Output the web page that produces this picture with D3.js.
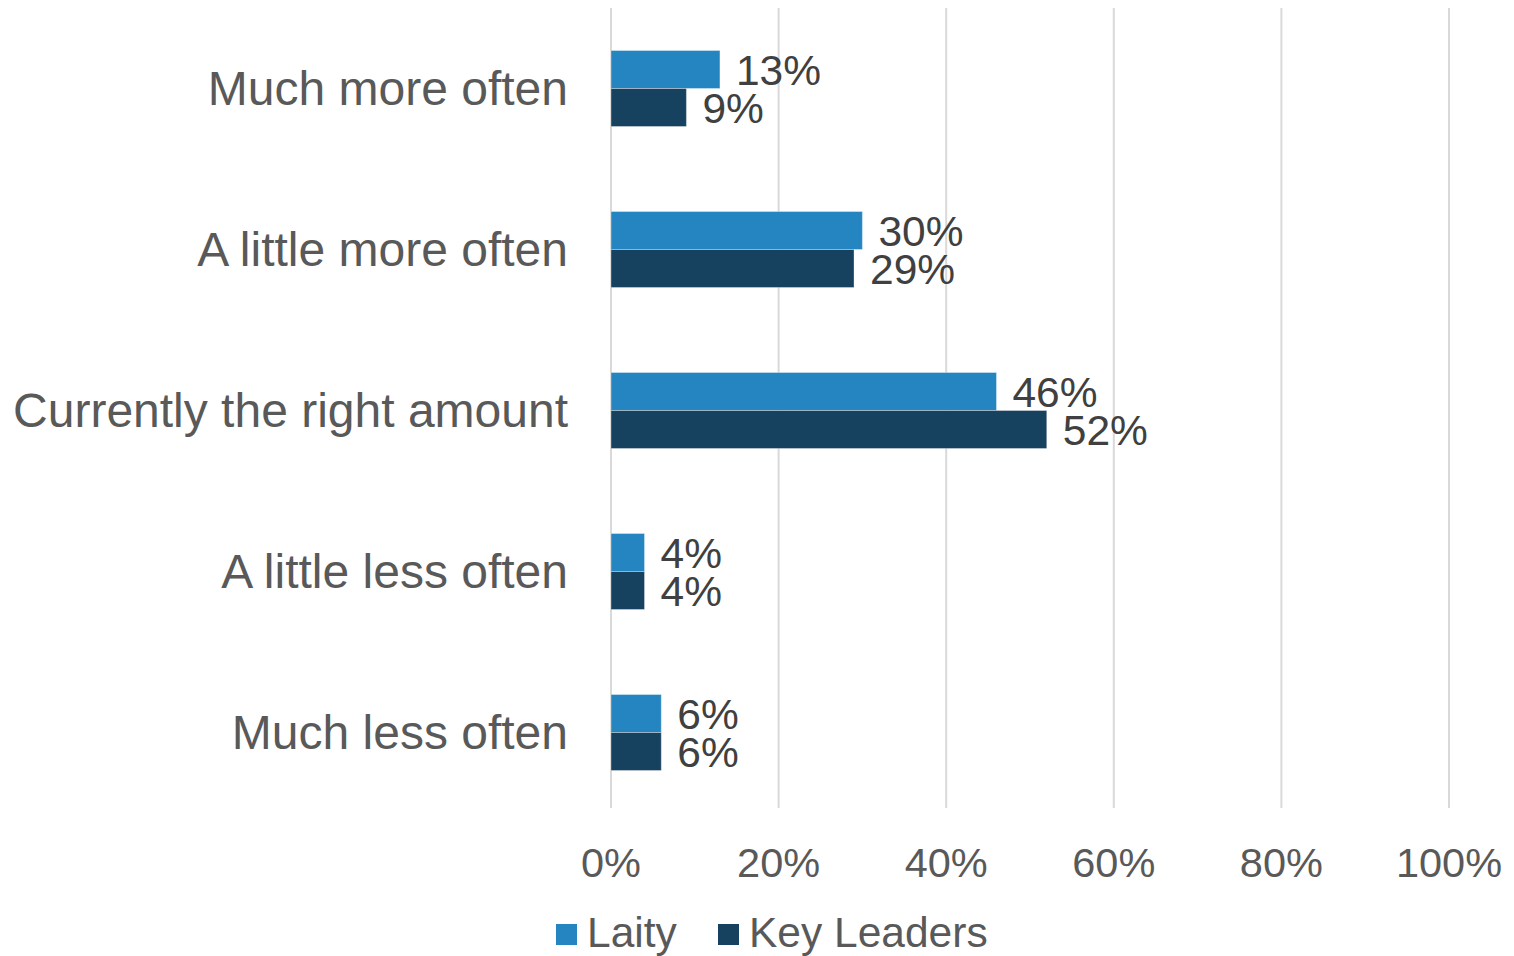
<!DOCTYPE html>
<html><head><meta charset="utf-8">
<script src="https://cdn.jsdelivr.net/npm/d3@7"></script>
<style>body{margin:0;background:#fff}svg{display:block}text{font-family:"Liberation Sans",Arial,sans-serif}</style>
</head><body><svg id="c" width="1514" height="956"></svg>
<script>
const categories = ["Much more often","A little more often","Currently the right amount","A little less often","Much less often"];
const seriesNames = ["Laity","Key Leaders"];
const laity = [13,30,46,4,6];
const keyLeaders = [9,29,52,4,6];
const tickValues = [0,20,40,60,80,100];
const colors = ["#2585C0","#16415F"];

const svg = d3.select("#c");
const x = d3.scaleLinear().domain([0,100]).range([611,1449]);
const y = d3.scaleBand().domain(categories).range([8,813]);
const sub = d3.scaleBand().domain(seriesNames).range([y.bandwidth()/2-38, y.bandwidth()/2+38]);

svg.append("g").selectAll("line").data(tickValues).join("line")
  .attr("x1",d=>x(d)).attr("x2",d=>x(d)).attr("y1",8).attr("y2",808)
  .attr("stroke","#d9d9d9").attr("stroke-width",2);

svg.append("g").selectAll("text").data(tickValues).join("text")
  .attr("x",d=>x(d)).attr("y",877).attr("text-anchor","middle")
  .attr("font-size",41.5).attr("fill","#595959").text(d=>d+"%");

svg.append("g").selectAll("text").data(categories).join("text")
  .attr("x",568).attr("y",d=>y(d)+y.bandwidth()/2+16).attr("text-anchor","end")
  .attr("font-size",48).attr("fill","#595959").text(d=>d);

const series = [laity, keyLeaders];
series.forEach((vals,si)=>{
  const g = svg.append("g");
  const data = categories.map((c,i)=>({c,v:vals[i]}));
  g.selectAll("rect").data(data).join("rect")
    .attr("x",x(0)).attr("y",d=>y(d.c)+sub(seriesNames[si]))
    .attr("width",d=>x(d.v)-x(0)).attr("height",sub.bandwidth())
    .attr("fill",colors[si]).attr("stroke","#fff").attr("stroke-opacity",0.35).attr("stroke-width",1);
  g.selectAll("text").data(data).join("text")
    .attr("x",d=>x(d.v)+16).attr("y",d=>y(d.c)+sub(seriesNames[si])+sub.bandwidth()/2+15)
    .attr("font-size",42.5).attr("fill","#404040").text(d=>d.v+"%");
});

const leg = svg.append("g");
const legX = [556,718];
seriesNames.forEach((n,i)=>{
  leg.append("rect").attr("x",legX[i]).attr("y",924).attr("width",21).attr("height",21).attr("fill",colors[i]);
  leg.append("text").attr("x",legX[i]+31).attr("y",947).attr("font-size",42.5).attr("fill","#595959").text(n);
});
</script></body></html>
